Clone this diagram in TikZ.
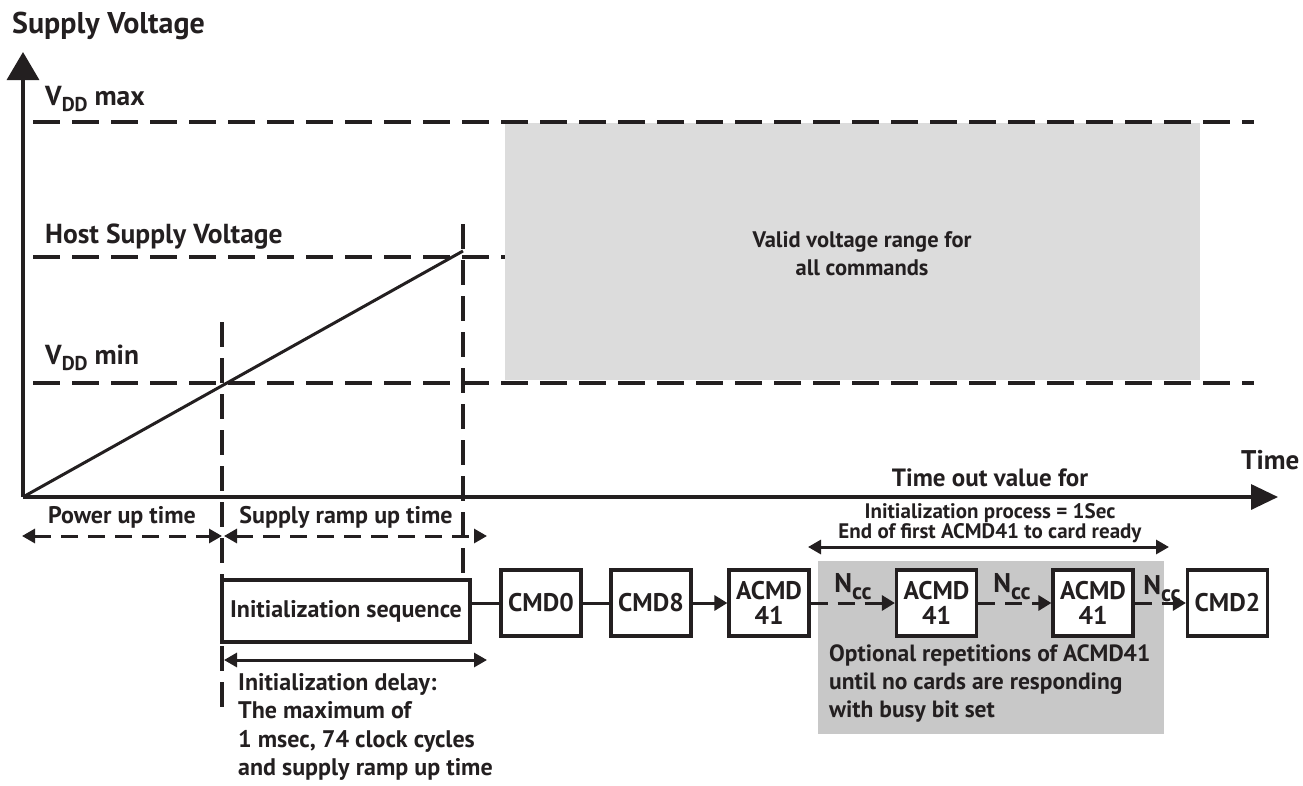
\documentclass[tikz,border=0pt]{standalone}
\usepackage{fontspec}
\setmainfont{PT Sans}
\usetikzlibrary{arrows.meta}
\definecolor{ink}{HTML}{231F20}
\definecolor{grayA}{HTML}{DCDCDC}
\definecolor{grayB}{HTML}{C8C8C8}
\newcommand\lowsub[3]{\raisebox{-#3}{\fontsize{#1}{#1}\selectfont #2}}
\newcommand\fsz[2]{\fontsize{#1}{#2}\selectfont}
\tikzset{
  solidline/.style={draw=ink, line width=3.4pt},
  hdash/.style={draw=ink, line width=3.8pt, dash pattern=on 27pt off 12pt},
  vdash/.style={draw=ink, line width=3.2pt, dash pattern=on 25pt off 11pt},
  lbl/.style={text=ink, font=\bfseries, inner sep=0pt},
  cmdbox/.style={draw=ink, line width=3.2pt, fill=white, minimum width=80pt, minimum height=66pt,
    inner sep=0pt, align=center, text=ink, font=\bfseries\fsz{25.5}{25}},
  tipS/.style={-{Triangle[length=13pt,width=15pt]}},
  dbl/.style={{Triangle[length=13pt,width=14pt]}-{Triangle[length=13pt,width=14pt]}},
  dasharrow/.style={draw=ink, line width=3pt, dash pattern=on 17pt off 10pt},
  fineline/.style={draw=ink, line width=3pt},
}
\begin{document}
\begin{tikzpicture}[x=1pt,y=-1pt]
\useasboundingbox (0,0) rectangle (1303,785);
% shaded regions
\fill[grayA] (505,123) rectangle (1200,380);
\fill[grayB] (818,561) rectangle (1164,734);
% axis label
\node[lbl,anchor=west,font=\bfseries\fsz{30}{34}] (ylab) at (12,26) {Supply Voltage};
\coordinate (O) at (23,497);
\coordinate (ytip) at (23,52);
\coordinate (xtip) at (1278,497);
\draw[solidline,-{Triangle[length=28pt,width=32pt]}] (O) -- (ytip);
\draw[solidline,-{Triangle[length=27pt,width=25pt]}] (O) -- (xtip);
\node[lbl,anchor=west,font=\bfseries\fsz{27}{30}] (xlab) at (1241,460) {Time};
% level labels and lines
\node[lbl,anchor=west,font=\bfseries\fsz{27.5}{30}] (vmax) at (45,99) {V\lowsub{20}{DD}{0.45ex} max};
\node[lbl,anchor=west,font=\bfseries\fsz{27.5}{30}] (vhost) at (45,237) {Host Supply Voltage};
\node[lbl,anchor=west,font=\bfseries\fsz{27.5}{30}] (vmin) at (45,358) {V\lowsub{20}{DD}{0.45ex} min};
\coordinate (maxL) at (33,122); \coordinate (maxR) at (1254,122);
\coordinate (hostL) at (33,257); \coordinate (hostR) at (505,257);
\coordinate (minL) at (33,383); \coordinate (minR) at (1254,383);
\draw[hdash] (maxL) -- (maxR);
\draw[hdash] (hostL) -- (hostR);
\draw[hdash] (minL) -- (minR);
\node[lbl,align=center,font=\bfseries\fsz{22.5}{28}] (valid) at (862,254) {Valid voltage range for\\all commands};
% ramp
\coordinate (rampEnd) at (463,251);
\draw[solidline,line width=3pt] (O) -- (rampEnd);
% vertical markers
\coordinate (v1top) at (222,322); \coordinate (v1bot) at (222,716);
\coordinate (v2top) at (463,224); \coordinate (v2bot) at (463,580);
\draw[vdash] (v1top) -- (v1bot);
\draw[vdash] (v2top) -- (v2bot);
% time spans
\node[lbl,font=\bfseries\fsz{24}{28}] (pu) at (122,517) {Power up time};
\node[lbl,font=\bfseries\fsz{24}{28}] (sr) at (346,517) {Supply ramp up time};
\coordinate (puL) at (22,536); \coordinate (puR) at (222,536);
\coordinate (srL) at (224,536); \coordinate (srR) at (487,536);
\draw[dasharrow,dbl] (puL) -- (puR);
\draw[dasharrow,dbl] (srL) -- (srR);
% command chain
\node[cmdbox,minimum width=248pt,minimum height=62pt,font=\bfseries\fsz{24}{26}] (init) at (346,611) {Initialization sequence};
\node[cmdbox] (cmd0) at (541,603) {CMD0};
\node[cmdbox] (cmd8) at (651,603) {CMD8};
\node[cmdbox] (a1) at (769,603) {ACMD\\41};
\node[cmdbox] (a2) at (936.5,603) {ACMD\\41};
\node[cmdbox] (a3) at (1093,603) {ACMD\\41};
\node[cmdbox] (cmd2) at (1227.5,603) {CMD2};
\draw[fineline] (init.east |- cmd0.west) -- (cmd0.west);
\draw[fineline] (cmd0) -- (cmd8);
\draw[fineline,tipS] (cmd8) -- (a1);
\draw[dasharrow,tipS] (a1) -- (a2);
\draw[dasharrow,tipS] (a2) -- (a3);
\draw[dasharrow,tipS] (a3) -- (cmd2);
\node[lbl,font=\bfseries\fsz{27}{28}] (n1) at (853,587) {N\lowsub{23}{cc}{0.5ex}};
\node[lbl,font=\bfseries\fsz{27}{28}] (n2) at (1012,587) {N\lowsub{23}{cc}{0.5ex}};
\node[lbl,font=\bfseries\fsz{27}{28}] (n3) at (1162,589) {N\lowsub{23}{cc}{0.5ex}};
% init delay
\coordinate (idL) at (224,660); \coordinate (idR) at (487,660);
\draw[fineline,dbl] (idL) -- (idR);
\node[lbl,anchor=north west,align=left,font=\bfseries\fsz{24}{28.5}] (idtext) at (238,673) {Initialization delay:\\The maximum of\\1 msec, 74 clock cycles\\and supply ramp up time};
% timeout
\node[lbl,font=\bfseries\fsz{25}{28}] (to1) at (990,478) {Time out value for};
\node[lbl,font=\bfseries\fsz{21}{24}] (to2) at (990,513) {Initialization process = 1Sec};
\node[lbl,font=\bfseries\fsz{21}{24}] (to3) at (990,533) {End of first ACMD41 to card ready};
\coordinate (toL) at (808,547); \coordinate (toR) at (1169,547);
\draw[fineline,dbl] (toL) -- (toR);
\node[lbl,anchor=north west,align=left,font=\bfseries\fsz{23.5}{28}] (opt) at (829,645) {Optional repetitions of ACMD41\\until no cards are responding\\with busy bit set};
\end{tikzpicture}
\end{document}
